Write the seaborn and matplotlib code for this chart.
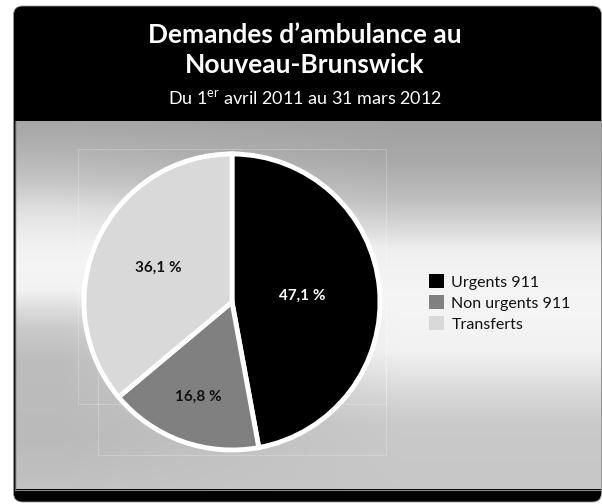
import numpy as np
import matplotlib
matplotlib.use("Agg")
import matplotlib.pyplot as plt
from matplotlib.patches import FancyBboxPatch, Rectangle, Patch
import seaborn as sns

# --- data -------------------------------------------------------------
categories = ["Urgents 911", "Non urgents 911", "Transferts"]
shares = [47.1, 16.8, 36.1]
slice_colors = ["#000000", "#808080", "#d9d9d9"]
label_colors = ["white", "#111111", "#111111"]

title_lines = ["Demandes d\u2019ambulance au", "Nouveau-Brunswick"]
subtitle = r"Du 1$^{\mathrm{er}}$ avril 2011 au 31 mars 2012"

# --- style ------------------------------------------------------------
sns.set_theme(style="white")
plt.rcParams["font.family"] = ["Lato", "DejaVu Sans"]
plt.rcParams["mathtext.fontset"] = "custom"
plt.rcParams["mathtext.rm"] = "Lato"
palette = sns.color_palette(slice_colors)

W, H = 602, 504
fig = plt.figure(figsize=(W / 100, H / 100), dpi=100)
fig.patch.set_facecolor("white")

# background canvas in pixel units
bg = fig.add_axes([0, 0, 1, 1])
bg.set_xlim(0, W)
bg.set_ylim(H, 0)
bg.axis("off")

# black rounded card
card = FancyBboxPatch((13.5, 6), 588, 496,
                      boxstyle="round,pad=0,rounding_size=9",
                      facecolor="black", edgecolor="#9a9a9a", linewidth=0.6)
bg.add_patch(card)

# brushed-metal panel: vertical light band that drifts between left and right
px0, px1, py0, py1 = 15, 601, 121, 489
ys = np.arange(py0, py1) + 0.5
xs = np.arange(px0, px1) + 0.5
left_y = [121, 150, 180, 210, 240, 265, 290, 310, 330, 360, 440, 489]
left_v = [0.65, 0.70, 0.77, 0.88, 0.94, 0.96, 0.95, 0.86, 0.79, 0.74, 0.73, 0.76]
right_y = [121, 160, 200, 230, 250, 270, 300, 350, 372, 397, 425, 489]
right_v = [0.63, 0.66, 0.75, 0.86, 0.94, 0.95, 0.96, 0.95, 0.90, 0.84, 0.79, 0.78]
col_l = np.interp(ys, left_y, left_v)
col_r = np.interp(ys, right_y, right_v)
t = np.clip((xs - 60) / (400 - 60), 0, 1)
shade = col_l[:, None] * (1 - t[None, :]) + col_r[:, None] * t[None, :]
bg.imshow(np.dstack([shade] * 3), extent=(px0, px1, py1, py0),
          aspect="auto", interpolation="bilinear", zorder=2)
bg.plot([px0 - 0.5, px0 - 0.5], [py0, py1], color="#555555", lw=1.0, zorder=3)
bg.plot([px0, px1], [py1 + 0.5, py1 + 0.5], color="#8a8a8a", lw=0.8, zorder=3)

# faint plot-area outlines
for (x0, y0, x1, y1) in [(78, 149, 386, 404), (98, 300, 386, 455)]:
    bg.add_patch(Rectangle((x0, y0), x1 - x0, y1 - y0, fill=False,
                           edgecolor="white", alpha=0.22, lw=0.8, zorder=3))

# titles
bg.text(305, 43, title_lines[0], color="white", fontsize=19, fontweight="bold",
        ha="center", va="baseline", zorder=4)
bg.text(305, 73, title_lines[1], color="white", fontsize=19, fontweight="bold",
        ha="center", va="baseline", zorder=4)
bg.text(305, 104, subtitle, color="white", fontsize=13,
        ha="center", va="baseline", zorder=4)

# --- pie --------------------------------------------------------------
cx, cy, R = 232, 302, 148
half = 160
ax = fig.add_axes([(cx - half) / W, (H - cy - half) / H, 2 * half / W, 2 * half / H])
wedges, texts, autotexts = ax.pie(
    shares, colors=palette, startangle=90, counterclock=False,
    autopct=lambda p: f"{p:.1f} %".replace(".", ","), pctdistance=0.55,
    wedgeprops=dict(edgecolor="white", linewidth=3.5),
    textprops=dict(fontsize=11, fontweight="bold"))
lim = half / R
ax.set_xlim(-lim, lim)
ax.set_ylim(-lim, lim)
ax.set_aspect("equal")
ax.axis("off")

label_radius = [0.48, 0.68, 0.55]
for w, txt, col, r in zip(wedges, autotexts, label_colors, label_radius):
    mid = np.deg2rad((w.theta1 + w.theta2) / 2)
    txt.set_position((r * np.cos(mid), r * np.sin(mid)))
    txt.set_color(col)

# --- legend -----------------------------------------------------------
handles = [Patch(facecolor=c, edgecolor="none") for c in palette]
fig.legend(handles, categories, loc="center left",
           bbox_to_anchor=(429 / W, 1 - 303 / H), frameon=False,
           fontsize=11.5, handlelength=0.95, handleheight=0.95,
           handletextpad=0.45, labelspacing=0.35, borderpad=0,
           borderaxespad=0, labelcolor="#111111")

fig.savefig("out.png", dpi=100, facecolor="white")
